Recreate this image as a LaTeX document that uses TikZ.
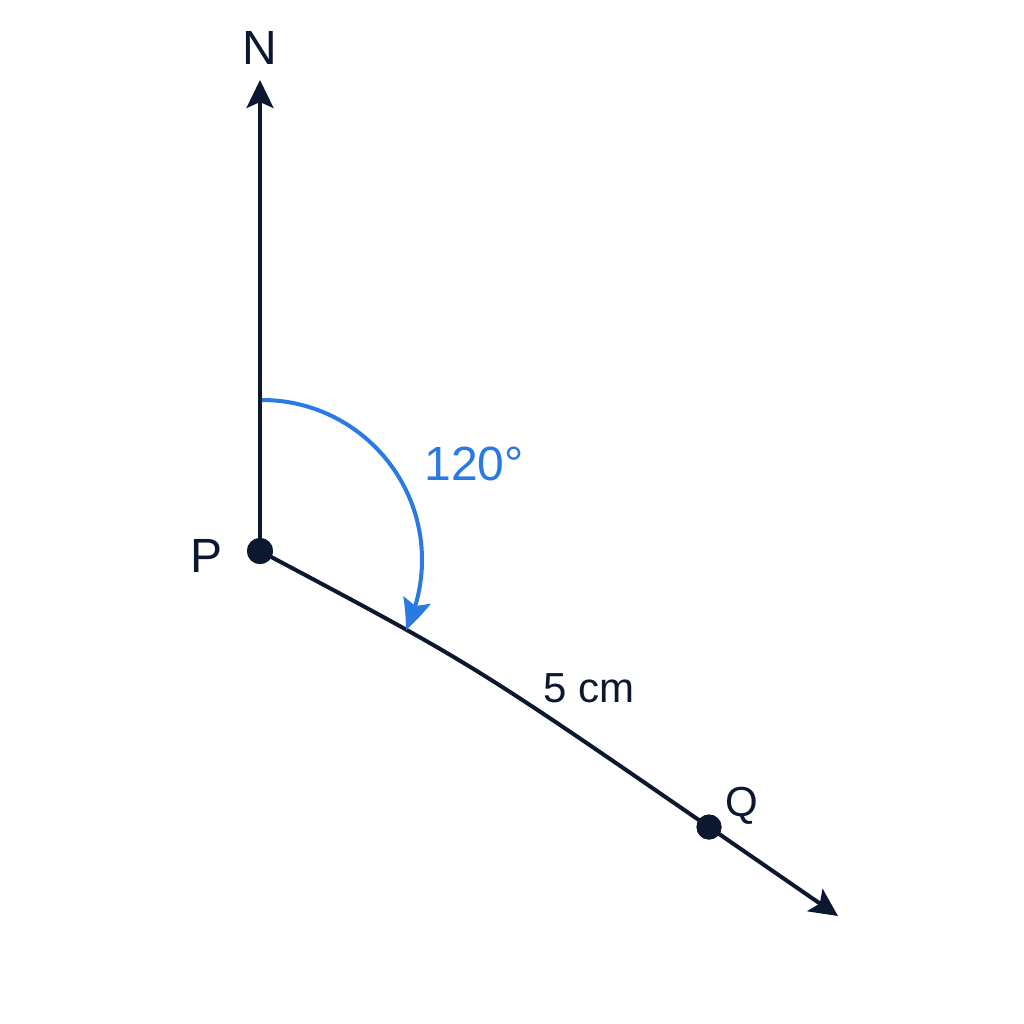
\documentclass[tikz,border=0pt]{standalone}
\usepackage{fontspec}
\setmainfont{Liberation Sans}
\usetikzlibrary{arrows.meta,bending}
\definecolor{ink}{HTML}{0C1730}
\definecolor{angleblue}{HTML}{2B79E3}
\begin{document}
\begin{tikzpicture}[x=0.5pt,y=-0.5pt,
  ray/.style={draw=ink,line width=2pt,-{Stealth[length=14pt,width=13.5pt,inset=3pt]}},
  seg/.style={draw=ink,line width=2pt},
  dot/.style={circle,fill=ink,inner sep=0pt,minimum size=13pt},
  lbl/.style={text=ink,inner sep=0pt,font=\fontsize{24}{28}\selectfont},
  lblsmall/.style={text=ink,inner sep=0pt,font=\fontsize{21}{25}\selectfont},
  anglearc/.style={draw=angleblue,line width=2pt,-{Stealth[length=16pt,width=14pt,inset=3pt,bend]}}]
\useasboundingbox[fill=white] (0,0) rectangle (1024,1024);
% points
\node[dot] (P) at (260,551) {};
\node[dot,minimum size=12.5pt] (Q) at (709,827) {};
\coordinate (Ntip) at (260,80);
\coordinate (Etip) at (838,916);
\coordinate (arcstart) at (262,400);
% labels
\node[lbl] (Nlbl) at (260,48) {N};
\node[lbl] (Plbl) at (207,556) {P};
\node[lblsmall] (Qlbl) at (742,806) {Q};
\node[lblsmall] (dist) at (589,688) {5 cm};
\node[lbl,text=angleblue] (ang) at (474,464) {120°};
% north ray
\draw[ray] (P.center) -- (Ntip);
% bearing line P -> Q -> beyond
\draw[seg] (P.center) .. controls (471,663) .. (Q.center);
\draw[ray] (Q.center) -- (Etip);
% angle arc
\draw[anglearc] (arcstart) arc[start angle=-90,end angle=26,radius=160];
\node[dot] at (P) {};
\node[dot,minimum size=12.5pt] at (Q) {};
\end{tikzpicture}
\end{document}
